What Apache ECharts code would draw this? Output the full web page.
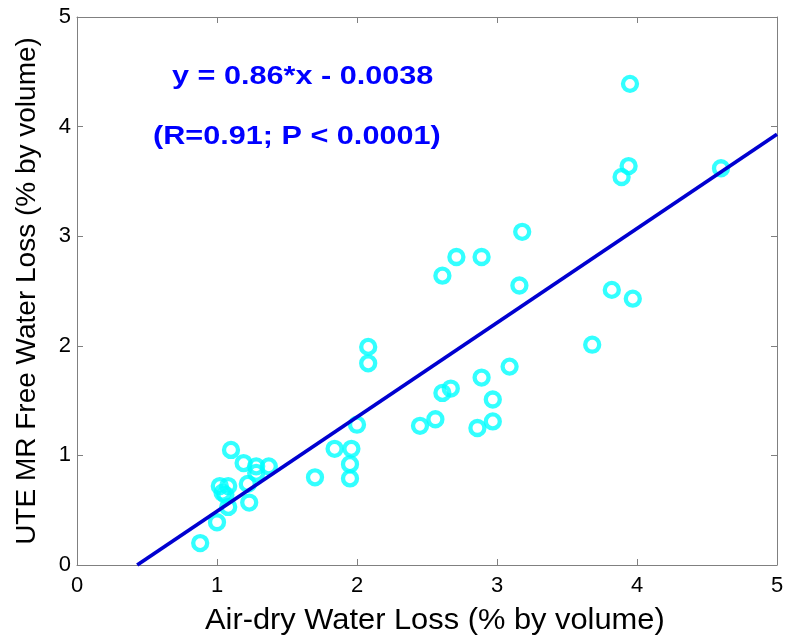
<!DOCTYPE html>
<html><head><meta charset="utf-8">
<script src="https://cdn.jsdelivr.net/npm/echarts@6/dist/echarts.min.js"></script>
<style>html,body{margin:0;padding:0;background:#fff}#c{width:788px;height:642px}</style>
</head><body><div id="c"></div>
<script>
const xTicks = [0, 1, 2, 3, 4, 5];
const yTicks = [0, 1, 2, 3, 4, 5];
const airDry = [0.88, 1.00, 1.02, 1.08, 1.04, 1.06, 1.08, 1.10, 1.19, 1.22, 1.23, 1.28, 1.28, 1.37,
  1.70, 1.84, 1.96, 1.95, 1.95, 2.00, 2.08, 2.08, 2.45, 2.56, 2.61, 2.67, 2.86, 2.89, 2.97, 2.97, 3.09,
  2.61, 2.71, 2.89, 3.18, 3.16, 3.68, 3.82, 3.97, 3.89, 3.94, 3.95, 4.60];
const uteFree = [0.20, 0.39, 0.72, 0.72, 0.66, 0.64, 0.53, 1.05, 0.93, 0.74, 0.57, 0.90, 0.84, 0.90,
  0.80, 1.06, 1.06, 0.92, 0.79, 1.28, 1.99, 1.84, 1.27, 1.33, 1.57, 1.61, 1.25, 1.71, 1.31, 1.51, 1.81,
  2.64, 2.81, 2.81, 3.04, 2.55, 2.01, 2.51, 2.43, 3.54, 3.64, 4.39, 3.62];
const fitX = [0.43, 5];
const fitY = [0, 3.93];
const eqText = 'y = 0.86*x - 0.0038';
const statText = '(R=0.91; P < 0.0001)';
const xTitle = 'Air-dry Water Loss (% by volume)';
const yTitle = 'UTE MR Free Water Loss (% by volume)';

const pts = airDry.map((x, i) => [x, uteFree[i]]);
const fit = fitX.map((x, i) => [x, fitY[i]]);
const font = '"Liberation Sans", Arial, sans-serif';
const frame = '#808080';
const chart = echarts.init(document.getElementById('c'));
const axBase = (pos, show) => ({
  type: 'value', min: xTicks[0], max: xTicks[xTicks.length - 1], interval: 1, position: pos,
  axisLine: {show: true, onZero: false, lineStyle: {color: frame, width: 1}},
  axisTick: {show: true, inside: true, length: 6, lineStyle: {color: frame}},
  axisLabel: {show: show, fontFamily: font, fontSize: 22, color: '#000', margin: pos === 'bottom' ? 10 : 6},
  splitLine: {show: false}
});
chart.setOption({
  animation: false,
  grid: {left: 77, right: 11, top: 17, bottom: 77},
  xAxis: [axBase('bottom', true), axBase('top', false)],
  yAxis: [axBase('left', true), axBase('right', false)],
  series: [
    {type: 'scatter', data: pts, symbol: 'circle', symbolSize: 14, xAxisIndex: 0, yAxisIndex: 0,
     itemStyle: {color: 'rgba(0,0,0,0)', borderColor: '#00ffff', borderWidth: 4.3}, z: 2},
    {type: 'line', data: fit, symbol: 'none', xAxisIndex: 0, yAxisIndex: 0,
     lineStyle: {color: '#0000d0', width: 3.8}, z: 3}
  ],
  graphic: [
    {type: 'text', x: 172, y: 77, scaleX: 1.225,
     style: {text: eqText, font: 'bold 25px ' + font, fill: '#0000ff', align: 'left', verticalAlign: 'middle'}},
    {type: 'text', x: 153, y: 137, scaleX: 1.225,
     style: {text: statText, font: 'bold 25px ' + font, fill: '#0000ff', align: 'left', verticalAlign: 'middle'}},
    {type: 'text', x: 205, y: 620.5, scaleX: 1.063,
     style: {text: xTitle, font: '29px ' + font, fill: '#000', align: 'left', verticalAlign: 'middle'}},
    {type: 'text', x: 27, y: 291, rotation: Math.PI / 2,
     style: {text: yTitle, font: '28px ' + font, fill: '#000', align: 'center', verticalAlign: 'middle'}}
  ]
});
</script></body></html>
